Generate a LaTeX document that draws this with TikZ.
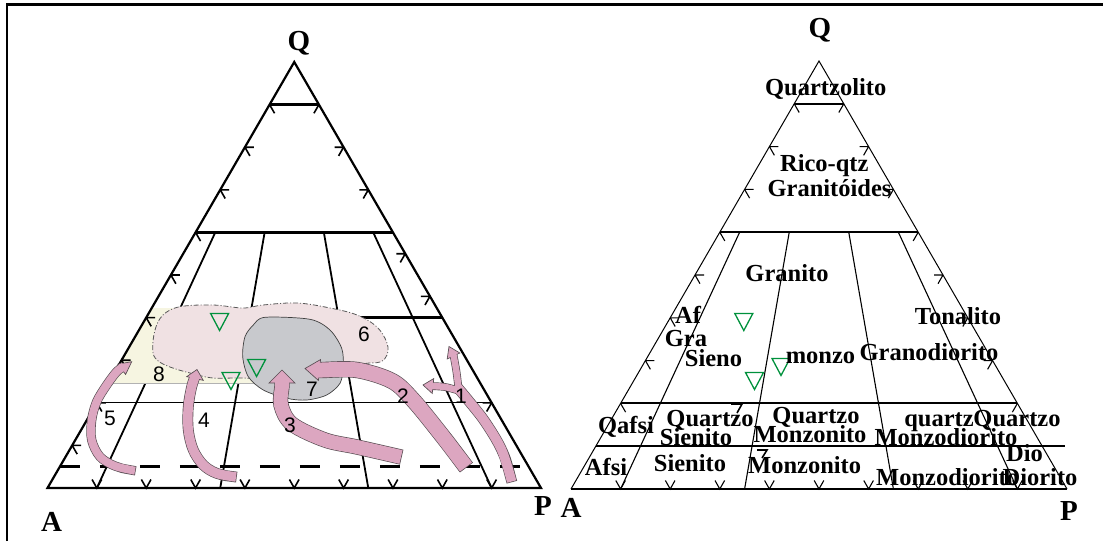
\documentclass[tikz,border=0pt]{standalone}
\usepackage{fontspec}
\setmainfont{Liberation Serif}
\newfontfamily\numfont{Liberation Sans}
\usetikzlibrary{calc}
\definecolor{arrowpink}{RGB}{220,166,192}
\definecolor{arrowedge}{RGB}{85,75,80}
\definecolor{regionpink}{RGB}{240,225,227}
\definecolor{blobgrey}{RGB}{200,201,205}
\definecolor{bandyellow}{RGB}{246,245,225}
\definecolor{trigreen}{RGB}{0,145,60}
\tikzset{qap/.cd, q/.store in=\qapq, r/.store in=\qapr}
\tikzdeclarecoordinatesystem{qap}{%
  \tikzset{qap/.cd,q=0,r=0,#1}%
  \pgfmathsetmacro\qapx{\AX+\W*(0.5*\qapq+(1-\qapq)*\qapr)}%
  \pgfmathsetmacro\qapy{\BY-\H*\qapq}%
  \pgfpointxy{\qapx}{\qapy}%
}
\tikzset{
  rt/.style={font=\bfseries\fontsize{24.5}{26}\selectfont, inner sep=0pt, anchor=base},
  corner/.style={font=\bfseries\fontsize{29}{30}\selectfont, inner sep=0pt, anchor=base},
  num/.style={font=\numfont\fontsize{21}{22}\selectfont, inner sep=0pt},
  gtri/.style={draw=trigreen, line width=1.3, line join=miter},
}
\newcommand\gtriangle[1]{\draw[gtri] ($(#1)+(-9,-8.5)$) -- ++(18,0) -- ++(-9,17) -- cycle;}
\newcommand\blockarrow[5]{%
  \draw[draw=arrowedge, line width=#1+1.3, shorten <=-0.7pt] plot[smooth, tension=0.55] coordinates {#3};
  \filldraw[fill=arrowpink, draw=arrowedge, line width=0.65, line join=miter] ($(#4)!#2!90:(#5)$) -- (#5) -- ($(#4)!#2!-90:(#5)$) -- cycle;
  \draw[draw=arrowpink, line width=#1] plot[smooth, tension=0.55] coordinates {#3};
}
\begin{document}
\begin{tikzpicture}[x=1pt,y=-1pt]
\useasboundingbox (0,0) rectangle (1103,541);
% frame
\draw[line width=2.2] (6.7,541) -- (6.7,4.5) -- (1103,4.5);

% ================= LEFT DIAGRAM =================
\begin{scope}
\def\AX{47.5}\def\BY{488}\def\W{493.5}\def\H{426}
\foreach \rr in {0.1,0.35,0.65,0.9}
  \draw[line width=1.8] (qap cs:q=0.6,r=\rr) -- (qap cs:q=0,r=\rr);
\draw[line width=1] (qap cs:q=0.2) -- (qap cs:q=0.2,r=1);
\draw[line width=2.7] (qap cs:q=0.4,r=0.6) -- (qap cs:q=0.4,r=1);
\draw[line width=3, dash pattern=on 20pt off 20pt] (qap cs:q=0.05) -- (qap cs:q=0.05,r=1);
% yellow band
\fill[bandyellow] (151.8,308) -- (258,308) -- (258,383) -- (108.3,383) -- cycle;
\draw[gray!60, line width=0.6] (108.3,383) -- (258,383);
% region 6
\filldraw[fill=regionpink, draw=gray!70!black, line width=0.8, dash pattern=on 5pt off 2pt on 1pt off 2pt]
  plot[smooth cycle, tension=0.6] coordinates {(152.7,350) (155,330) (163,315) (180,306.7) (213,305) (243,308) (263,305) (297,303) (330,308) (357,315) (377,327) (387,343) (387,355) (380,362) (363,364) (335,373) (290,380) (243,378) (213,378) (190,373) (170,367) (157,360)};
% blob 7
\filldraw[fill=blobgrey, draw=black!75, line width=0.7]
  plot[smooth cycle, tension=0.5] coordinates {(265,317.3) (310,319.3) (330,330) (341.7,348.3) (343.3,366.7) (340,383.3) (326.7,395) (306.7,400) (286.7,398.3) (263.3,390) (248.3,376.7) (242.7,356.7) (245,336.7) (253.3,325)};
% triangle
\draw[line width=2.2, line join=miter] (qap cs:q=0) -- (qap cs:q=1) -- (qap cs:q=0,r=1) -- cycle;
\draw[line width=2.5] (qap cs:q=0.9) -- (qap cs:q=0.9,r=1);
\draw[line width=2.5] (qap cs:q=0.6) -- (qap cs:q=0.6,r=1);
% ticks
\begin{scope}[line width=1.6]
\foreach \qq in {0.1,0.2,0.3,0.4,0.5,0.6,0.7,0.8,0.9}
  \draw (qap cs:q=\qq) -- ++(9,0) (qap cs:q=\qq) -- ++(5,8.7);
\foreach \qq in {0.9,0.8,0.7,0.55,0.45,0.2}
  \draw (qap cs:q=\qq,r=1) -- ++(-9,0) (qap cs:q=\qq,r=1) -- ++(-5,8.7);
\foreach \rr in {0.1,0.2,0.3,0.4,0.5,0.6,0.7,0.8,0.9}
  \draw (qap cs:r=\rr) ++(-4.8,-8.5) -- (qap cs:r=\rr) -- ++(4.8,-8.5);
\end{scope}
% green triangles
\gtriangle{219.6,322}
\gtriangle{231,381}
\gtriangle{256.6,368}
% arrows
\blockarrow{8}{6.5pt}{(135,470.7) (115,466) (100,456.7) (91.7,440) (91.7,420) (96.7,401.7) (106.7,385) (116.7,371.7) (124,366.5)}{121.7,369.3}{131.7,361.7}
\blockarrow{9.5}{8.5pt}{(236,477) (216.7,473.3) (203.3,465) (193.3,450) (188.3,430) (188.3,406.7) (191.7,386.7) (195.5,375.5)}{195,378.5}{197,369.5}
\blockarrow{14}{13pt}{(401,457) (357,447) (325,440) (292,424) (281,405) (282,386) (282,380)}{282,383}{282,370}
\blockarrow{15}{10.5pt}{(466,467) (440,433) (413,400) (392,381) (357,370) (322,370) (316,370)}{319.5,370}{305,368.5}
% arrow 1 (forked)
\draw[draw=arrowedge, line width=10.8, shorten <=-0.7pt] plot[smooth,tension=0.55] coordinates {(511.7,481.5) (501.7,450) (485,421.7) (468,400) (458,388)};
\draw[draw=arrowedge, line width=7.8] plot[smooth,tension=0.55] coordinates {(459,393) (456.5,372) (453,352.5)};
\draw[draw=arrowedge, line width=7.8] plot[smooth,tension=0.55] coordinates {(460,391) (445,387) (429.5,386)};
\filldraw[fill=arrowpink, draw=arrowedge, line width=0.65, line join=miter] ($(453.5,356)!7pt!90:(449,346.5)$) -- (449,346.5) -- ($(453.5,356)!7pt!-90:(449,346.5)$) -- cycle;
\filldraw[fill=arrowpink, draw=arrowedge, line width=0.65, line join=miter] ($(433,386)!7.5pt!90:(423,385)$) -- (423,385) -- ($(433,386)!7.5pt!-90:(423,385)$) -- cycle;
\draw[draw=arrowpink, line width=9.5] plot[smooth,tension=0.55] coordinates {(511.7,481.5) (501.7,450) (485,421.7) (468,400) (458,388)};
\draw[draw=arrowpink, line width=6.5] plot[smooth,tension=0.55] coordinates {(459,393) (456.5,372) (453,352.5)};
\draw[draw=arrowpink, line width=6.5] plot[smooth,tension=0.55] coordinates {(460,391) (445,387) (429.5,386)};
% numbers
\node[num] (n1) at (461,396) {1};
\node[num] (n2) at (403,396) {2};
\node[num] (n3) at (290,425) {3};
\node[num] (n4) at (204,420) {4};
\node[num] (n5) at (110,418) {5};
\node[num] (n6) at (364,334) {6};
\node[num] (n7) at (312,389) {7};
\node[num] (n8) at (159,374) {8};
% corner labels
\node[corner] (lQ) at (299,50) {Q};
\node[corner] (lA) at (51.7,531.7) {A};
\node[corner] (lP) at (543,515) {P};
\end{scope}

% ================= RIGHT DIAGRAM =================
\begin{scope}
\def\AX{571}\def\BY{489}\def\W{496}\def\H{428}
\foreach \rr in {0.1,0.35,0.65,0.9}
  \draw[line width=1.1] (qap cs:q=0.6,r=\rr) -- (qap cs:q=0,r=\rr);
\draw[line width=1] (qap cs:q=0) -- (qap cs:q=1) -- (qap cs:q=0,r=1);
\draw[line width=2.6] (qap cs:q=0) -- (qap cs:q=0,r=1);
\draw[line width=2] (qap cs:q=0.9) -- (qap cs:q=0.9,r=1);
\draw[line width=2] (qap cs:q=0.6) -- (qap cs:q=0.6,r=1);
\draw[line width=2] (qap cs:q=0.2) -- (qap cs:q=0.2,r=1);
\draw[line width=2] (qap cs:q=0.1) -- (qap cs:q=0.1,r=1) -- ++(23,0);
\begin{scope}[line width=1.1]
\foreach \qq in {0.9,0.8,0.7,0.6,0.5,0.4,0.3,0.2}
  \draw (qap cs:q=\qq) -- ++(9,0) (qap cs:q=\qq) -- ++(5,8.7);
\foreach \qq in {0.9,0.8,0.7,0.6,0.5,0.4,0.3,0.2}
  \draw (qap cs:q=\qq,r=1) -- ++(-9,0) (qap cs:q=\qq,r=1) -- ++(-5,8.7);
\foreach \rr in {0.1,0.2,0.3,0.4,0.5,0.6,0.7,0.8,0.9}
  \draw (qap cs:r=\rr) ++(-4.8,-8.5) -- (qap cs:r=\rr) -- ++(4.8,-8.5);
\end{scope}
\draw[line width=1.6] (731,404) -- (742,404) -- (737,413);
\draw[line width=1.6] (757,450) -- (767,450) -- (762,458);
% green triangles
\gtriangle{743.8,322}
\gtriangle{754.5,381}
\gtriangle{781,367}
% labels
\node[rt] (tQz) at (825.7,95) {Quartzolito};
\node[rt] (tRq) at (824.3,171.7) {Rico-qtz};
\node[rt] (tGd) at (829.5,196.7) {Granitóides};
\node[rt] (tGr) at (787,281.7) {Granito};
\node[rt] (tAf) at (688,323) {Af};
\node[rt] (tGa) at (686,346.7) {Gra};
\node[rt] (tSn) at (713.5,366.7) {Sieno};
\node[rt] (tmz) at (820.5,363) {monzo};
\node[rt] (tGo) at (929,360) {Granodiorito};
\node[rt] (tTo) at (958,324) {Tonalito};
\node[rt] (tQa) at (626,433) {Qafsi};
\node[rt] (tQ1) at (710,426.7) {Quartzo};
\node[rt] (tS1) at (696,445) {Sienito};
\node[rt] (tQ2) at (816,423) {Quartzo};
\node[rt] (tM1) at (810,442.7) {Monzonito};
\node[rt] (tqz) at (939,426) {quartz};
\node[rt] (tQ3) at (1017,426.7) {Quartzo};
\node[rt] (tMd1) at (946,445) {Monzodiorito};
\node[rt] (tDio) at (1024.5,461.7) {Dio};
\node[rt] (tAfs) at (606,475) {Afsi};
\node[rt] (tS2) at (690,471.7) {Sienito};
\node[rt] (tM2) at (804.6,473.3) {Monzonito};
\node[rt] (tMd2) at (947.6,485) {Monzodiorito};
\node[rt] (tDi) at (1040,485) {Diorito};
\node[corner] (rQ) at (820,37) {Q};
\node[corner] (rA) at (571,517) {A};
\node[corner] (rP) at (1069,520) {P};
\end{scope}
\end{tikzpicture}
\end{document}
